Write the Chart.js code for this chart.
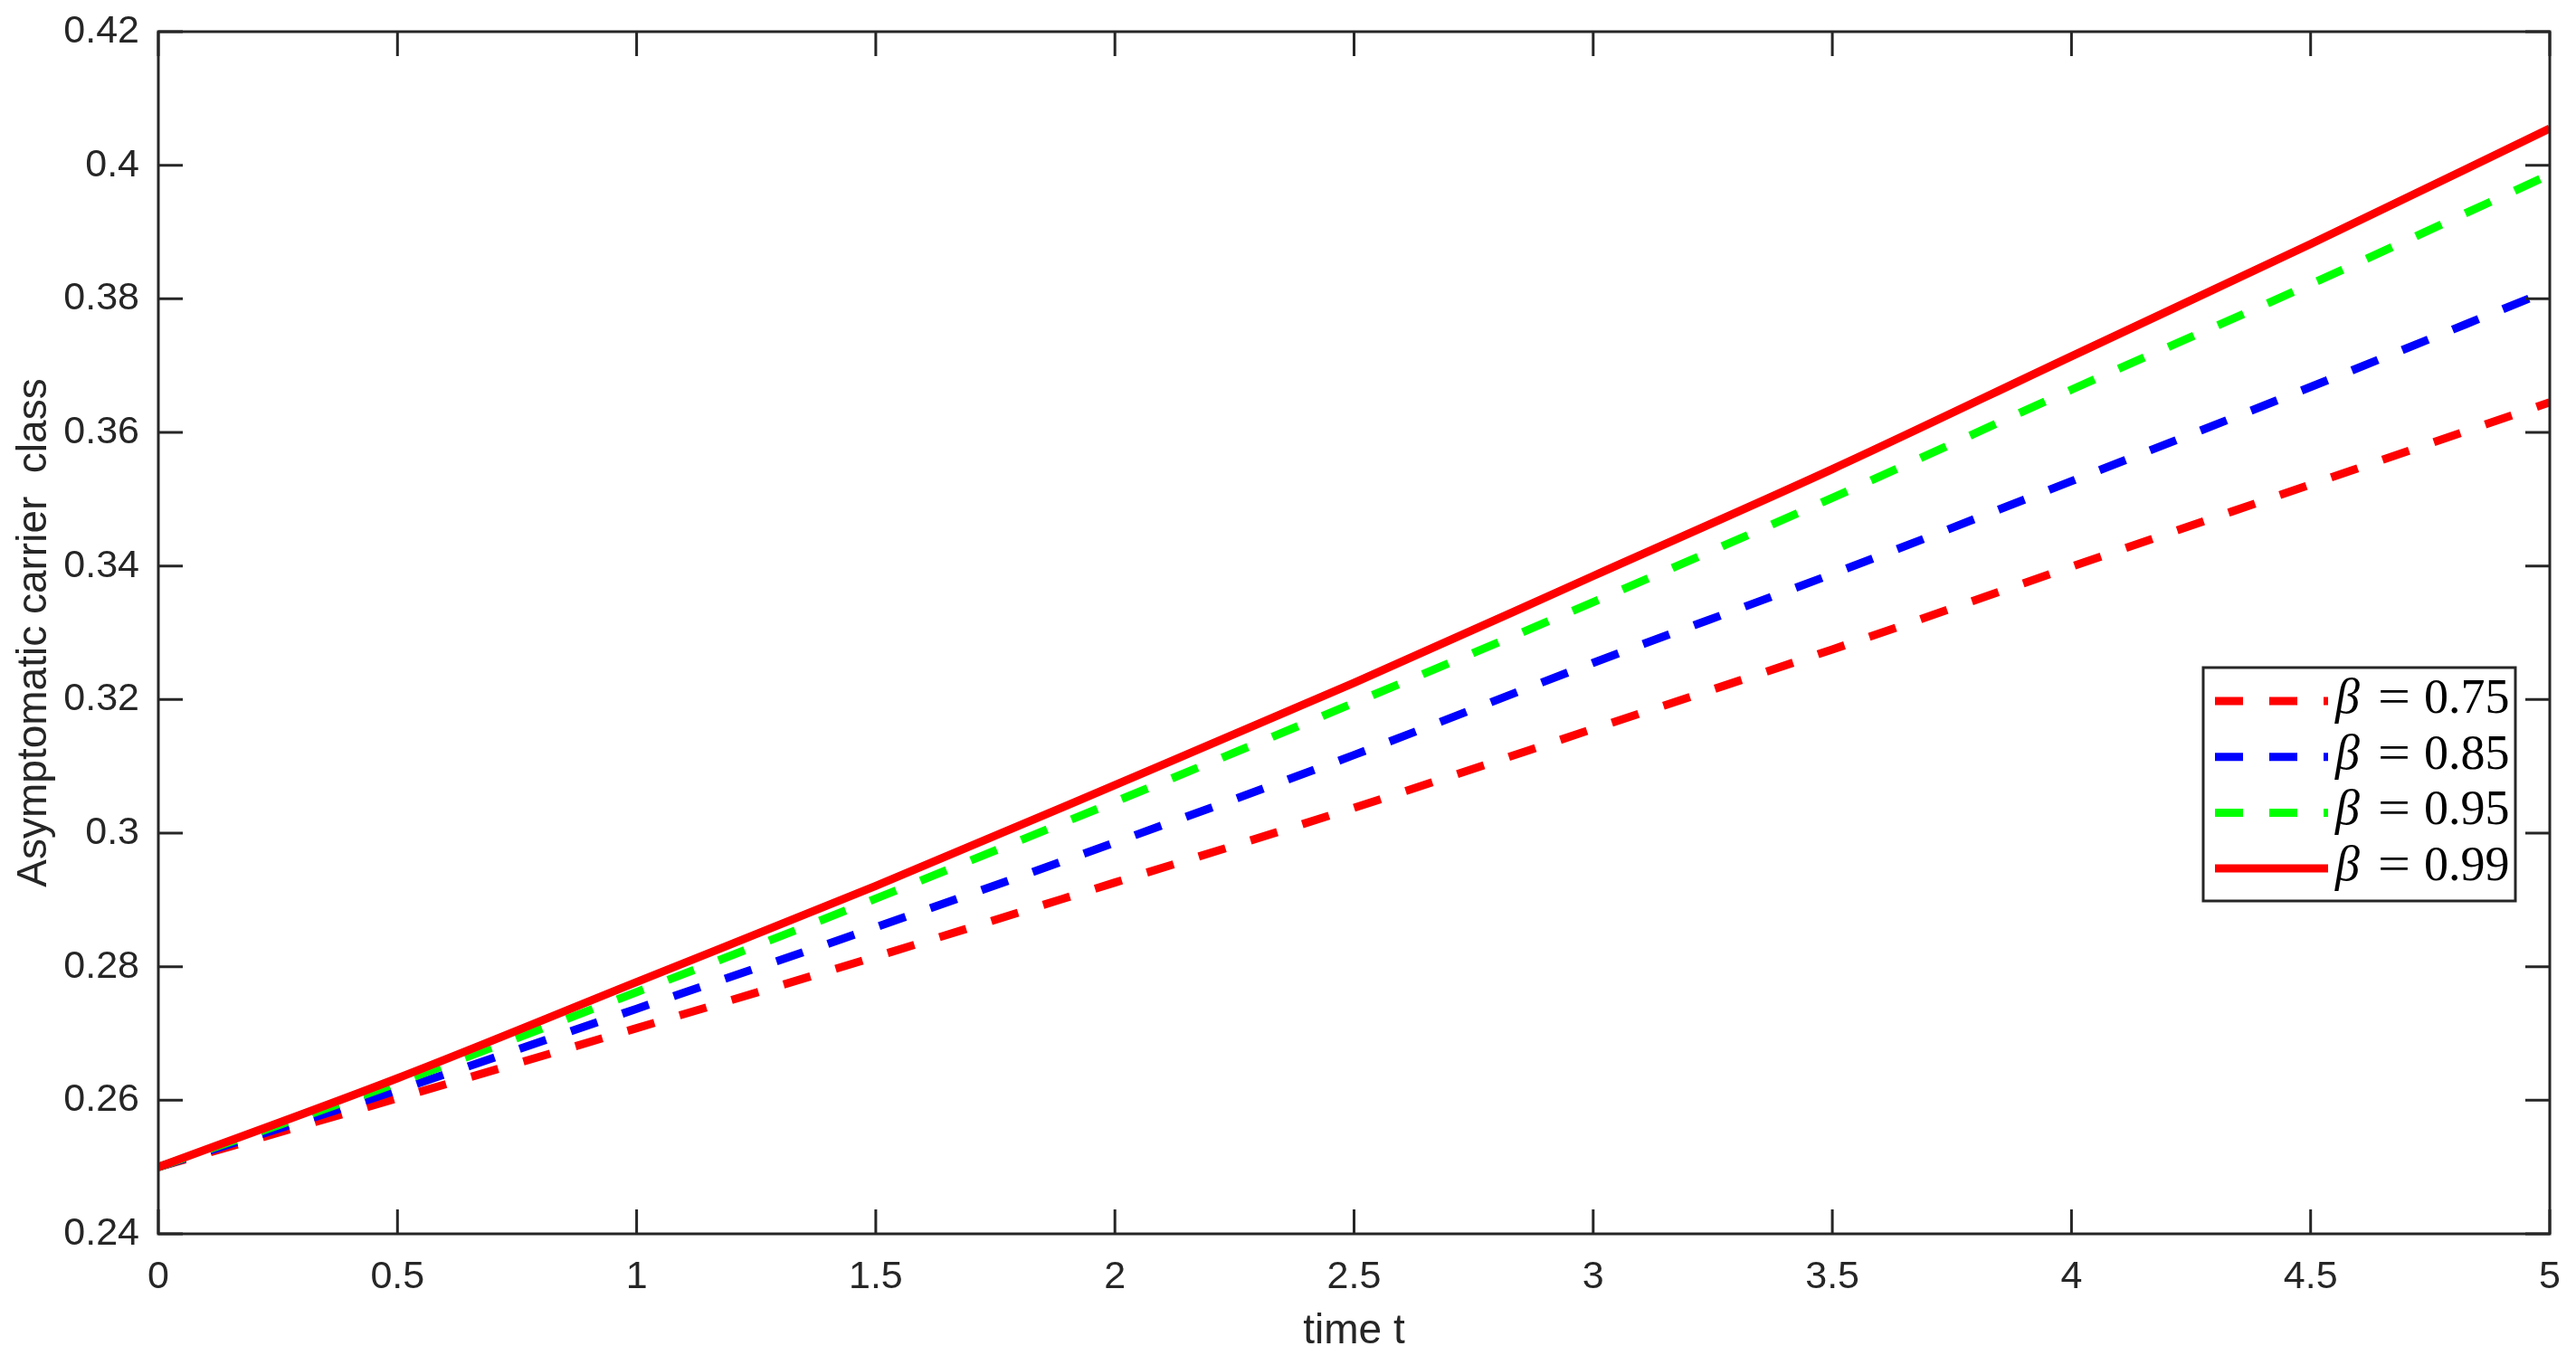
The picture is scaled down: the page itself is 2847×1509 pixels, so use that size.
<!DOCTYPE html>
<html>
<head>
<meta charset="utf-8">
<script src="https://cdn.jsdelivr.net/npm/chart.js@4.4.1/dist/chart.umd.min.js"></script>
<style>
  html, body { margin: 0; padding: 0; background: #ffffff; }
  #c { display: block; }
</style>
</head>
<body>
<canvas id="c" width="2847" height="1509"></canvas>
<script>
// ---- data ----
const timeT = [0, 0.5, 1, 1.5, 2, 2.5, 3, 3.5, 4, 4.5, 5];
const beta075 = [0.2500, 0.2603, 0.2708, 0.2815, 0.2926, 0.3038, 0.3156, 0.3275, 0.3399, 0.3522, 0.3645];
const beta085 = [0.2500, 0.2615, 0.2737, 0.2859, 0.2986, 0.3117, 0.3255, 0.3388, 0.3527, 0.3668, 0.3813];
const beta095 = [0.2500, 0.2626, 0.2762, 0.2902, 0.3047, 0.3195, 0.3346, 0.3502, 0.3664, 0.3822, 0.3986];
const beta099 = [0.2500, 0.2633, 0.2777, 0.2921, 0.3072, 0.3225, 0.3385, 0.3545, 0.3714, 0.3882, 0.4055];
const seriesNames = ['0.75', '0.85', '0.95', '0.99'];
const xTicks = [0, 0.5, 1, 1.5, 2, 2.5, 3, 3.5, 4, 4.5, 5];
const xTickLabels = ['0', '0.5', '1', '1.5', '2', '2.5', '3', '3.5', '4', '4.5', '5'];
const yTicks = [0.24, 0.26, 0.28, 0.30, 0.32, 0.34, 0.36, 0.38, 0.40, 0.42];
const yTickLabels = ['0.24', '0.26', '0.28', '0.3', '0.32', '0.34', '0.36', '0.38', '0.4', '0.42'];
const xTitle = 'time t';
const yTitle = 'Asymptomatic carrier  class';

const AX = '#262626';
const SANS = '"Liberation Sans", Arial, Helvetica, sans-serif';
const SERIF = '"Liberation Serif", "Times New Roman", serif';
const TICK = 27;

function pts(ys) { return timeT.map((t, i) => ({ x: t, y: ys[i] })); }

const boxPlugin = {
  id: 'boxPlugin',
  afterDatasetsDraw(chart) {
    const { ctx, chartArea: a, scales: { x, y } } = chart;
    ctx.save();
    ctx.strokeStyle = AX;
    ctx.lineWidth = 3;
    ctx.lineCap = 'butt';
    ctx.beginPath();
    xTicks.forEach(v => {
      const px = x.getPixelForValue(v);
      ctx.moveTo(px, a.bottom); ctx.lineTo(px, a.bottom - TICK);
      ctx.moveTo(px, a.top); ctx.lineTo(px, a.top + TICK);
    });
    yTicks.forEach(v => {
      const py = y.getPixelForValue(v);
      ctx.moveTo(a.left, py); ctx.lineTo(a.left + TICK, py);
      ctx.moveTo(a.right, py); ctx.lineTo(a.right - TICK, py);
    });
    ctx.stroke();
    ctx.strokeRect(a.left, a.top, a.right - a.left, a.bottom - a.top);
    ctx.restore();
  }
};

const legendPlugin = {
  id: 'legendPlugin',
  afterDraw(chart) {
    const { ctx, chartArea: a } = chart;
    const bx = a.right - 383, by = a.top + 703, bw = 345, bh = 258;
    ctx.save();
    ctx.fillStyle = '#ffffff';
    ctx.fillRect(bx, by, bw, bh);
    ctx.strokeStyle = AX;
    ctx.lineWidth = 3;
    ctx.strokeRect(bx, by, bw, bh);
    chart.data.datasets.forEach((ds, i) => {
      const yc = by + 37 + i * 61.7;
      ctx.save();
      ctx.strokeStyle = ds.borderColor;
      ctx.lineWidth = ds.borderWidth;
      ctx.lineCap = 'butt';
      ctx.setLineDash(ds.borderDash || []);
      ctx.beginPath();
      ctx.moveTo(bx + 13, yc);
      ctx.lineTo(bx + 138, yc);
      ctx.stroke();
      ctx.restore();
      const base = yc + 13;
      ctx.fillStyle = '#000000';
      ctx.textBaseline = 'alphabetic';
      ctx.textAlign = 'left';
      ctx.font = 'italic 54px ' + SERIF;
      ctx.fillText('\u03B2', bx + 146, base);
      ctx.font = '54px ' + SERIF;
      const eqW = ctx.measureText('=').width;
      ctx.save();
      ctx.translate(bx + 193, base);
      ctx.scale(36 / eqW, 1);
      ctx.fillText('=', 0, 0);
      ctx.restore();
      ctx.fillText(seriesNames[i], bx + 244, base);
    });
    ctx.restore();
  }
};

const bgPlugin = {
  id: 'bg',
  beforeDraw(chart) {
    const { ctx, width, height } = chart;
    ctx.save();
    ctx.fillStyle = '#ffffff';
    ctx.fillRect(0, 0, width, height);
    ctx.restore();
  }
};

const DASH = [31, 29];

new Chart(document.getElementById('c'), {
  type: 'line',
  data: {
    datasets: [
      { label: '\u03B2 = 0.75', data: pts(beta075), borderColor: '#ff0000', borderDash: DASH, borderWidth: 9, order: 3 },
      { label: '\u03B2 = 0.85', data: pts(beta085), borderColor: '#0000ff', borderDash: DASH, borderWidth: 9, order: 2 },
      { label: '\u03B2 = 0.95', data: pts(beta095), borderColor: '#00ff00', borderDash: DASH, borderWidth: 9, order: 1 },
      { label: '\u03B2 = 0.99', data: pts(beta099), borderColor: '#ff0000', borderWidth: 9, order: 0 }
    ]
  },
  options: {
    responsive: false,
    animation: false,
    devicePixelRatio: 1,
    layout: { padding: { top: 35, right: 29, left: 0, bottom: 0 } },
    elements: {
      point: { radius: 0, hoverRadius: 0 },
      line: { cubicInterpolationMode: 'monotone', borderCapStyle: 'butt', fill: false }
    },
    plugins: { legend: { display: false }, tooltip: { enabled: false } },
    scales: {
      x: {
        type: 'linear', min: 0, max: 5,
        afterBuildTicks(s) { s.ticks = xTicks.map(v => ({ value: v })); },
        afterFit(s) { s.height = 145; s.paddingLeft = 0; s.paddingRight = 0; },
        grid: { display: false, drawTicks: false },
        border: { display: false },
        ticks: {
          color: AX, padding: 22, maxRotation: 0, autoSkip: false,
          font: { family: SANS, size: 43 },
          callback(v, i) { return xTickLabels[i]; }
        },
        title: { display: true, text: xTitle, color: AX, font: { family: SANS, size: 46 }, padding: { top: 0, bottom: 9 } }
      },
      y: {
        type: 'linear', min: 0.24, max: 0.42,
        afterBuildTicks(s) { s.ticks = yTicks.map(v => ({ value: v })); },
        afterFit(s) { s.width = 175; s.paddingTop = 0; s.paddingBottom = 0; },
        grid: { display: false, drawTicks: false },
        border: { display: false },
        ticks: {
          color: AX, padding: 21, autoSkip: false,
          font: { family: SANS, size: 43 },
          callback(v, i) { return yTickLabels[i]; }
        },
        title: { display: true, text: yTitle, color: AX, font: { family: SANS, size: 46 }, padding: { top: 11, bottom: 0 } }
      }
    }
  },
  plugins: [bgPlugin, boxPlugin, legendPlugin]
});
</script>
</body>
</html>
